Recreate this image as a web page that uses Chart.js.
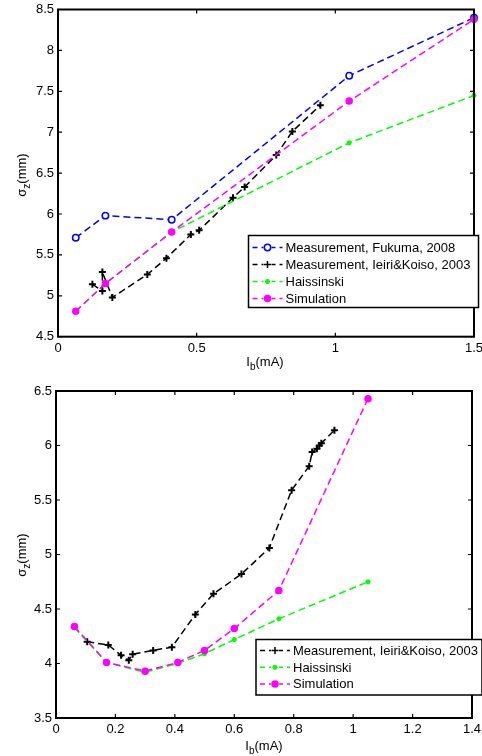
<!DOCTYPE html>
<html>
<head>
<meta charset="utf-8">
<script src="https://cdn.jsdelivr.net/npm/chart.js@4.4.1/dist/chart.umd.min.js"></script>
<style>
  body { margin: 0; background: #fff; font-family: "Liberation Sans", Arial, sans-serif; }
  #wrap { position: relative; width: 482px; height: 756px; }
  canvas { position: absolute; left: 0; }
  .lbl { position: absolute; font-size: 13px; line-height: 15px; color: #000; white-space: nowrap; transform: translate(-50%, -50%); }
  .lbl.rot { transform: translate(-50%, -50%) rotate(-90deg); }
  .lbl sub { font-size: 10px; vertical-align: -4px; line-height: 0; }
</style>
</head>
<body>
<div id="wrap">
  <canvas id="top" width="482" height="378" style="top:0"></canvas>
  <canvas id="bottom" width="482" height="378" style="top:378px"></canvas>
  <div class="lbl" style="left:265px; top:361px">I<sub>b</sub>(mA)</div>
  <div class="lbl rot" style="left:21px; top:175px">&sigma;<sub>z</sub>(mm)</div>
  <div class="lbl" style="left:264px; top:745px">I<sub>b</sub>(mA)</div>
  <div class="lbl rot" style="left:21px; top:555px">&sigma;<sub>z</sub>(mm)</div>
</div>
<script>
// ---- top panel data ----
const topFukumaX = [0.064, 0.171, 0.41, 1.05, 1.5];
const topFukumaY = [5.71, 5.98, 5.93, 7.69, 8.40];
const topIeiriX = [0.124, 0.16, 0.16, 0.196, 0.322, 0.391, 0.479, 0.509, 0.631, 0.673, 0.787, 0.845, 0.946];
const topIeiriY = [5.14, 5.06, 5.29, 4.98, 5.26, 5.46, 5.75, 5.80, 6.20, 6.33, 6.72, 7.01, 7.33];
const topHaisX = [0.064, 0.171, 0.41, 1.05, 1.5];
const topHaisY = [4.81, 5.15, 5.78, 6.87, 7.45];
const topSimX = [0.064, 0.171, 0.41, 1.05, 1.5];
const topSimY = [4.81, 5.15, 5.78, 7.38, 8.38];
const topXTicks = [0, 0.5, 1, 1.5];
const topYTicks = [4.5, 5, 5.5, 6, 6.5, 7, 7.5, 8, 8.5];

// ---- bottom panel data ----
const botIeiriX = [0.105, 0.176, 0.219, 0.245, 0.258, 0.327, 0.39, 0.469, 0.53, 0.624, 0.718, 0.793, 0.852, 0.862, 0.878, 0.886, 0.893, 0.937];
const botIeiriY = [4.20, 4.17, 4.075, 4.03, 4.085, 4.12, 4.15, 4.45, 4.64, 4.82, 5.06, 5.59, 5.81, 5.94, 5.97, 6.00, 6.02, 6.14];
const botHaisX = [0.062, 0.17, 0.30, 0.41, 0.50, 0.60, 0.75, 1.05];
const botHaisY = [4.33, 4.01, 3.92, 4.00, 4.09, 4.22, 4.41, 4.75];
const botSimX = [0.062, 0.17, 0.30, 0.41, 0.50, 0.60, 0.75, 1.05];
const botSimY = [4.34, 4.01, 3.93, 4.01, 4.12, 4.32, 4.67, 6.43];
const botXTicks = [0, 0.2, 0.4, 0.6, 0.8, 1, 1.2, 1.4];
const botYTicks = [3.5, 4, 4.5, 5, 5.5, 6, 6.5];

const names = {
    fukuma: 'Measurement, Fukuma, 2008',
    ieiri: 'Measurement, Ieiri&Koiso, 2003',
    hais: 'Haissinski',
    sim: 'Simulation'
};

const FONT = { family: '"Liberation Sans", Arial, sans-serif', size: 13 };
const DASH = [7, 4];

function pts(xs, ys) {
    return xs.map((x, i) => ({ x: x, y: ys[i] }));
}

function series(label, xs, ys, color, style, order) {
    const base = {
        label: label,
        data: pts(xs, ys),
        showLine: true,
        borderColor: color,
        borderWidth: 1.5,
        borderDash: DASH,
        pointStyle: style,
        pointBorderColor: color,
        pointBackgroundColor: color,
        pointRadius: 3,
        pointBorderWidth: 1.5,
        clip: false,
        order: order
    };
    if (style === 'circle-open') {
        base.pointStyle = 'circle';
        base.pointBackgroundColor = '#fff';
        base.pointRadius = 3.2;
    }
    if (style === 'cross') {
        base.pointRadius = 3.5;
        base.pointBorderWidth = 2;
    }
    if (style === 'star') {
        base.pointRadius = 2.5;
        base.pointBorderWidth = 1.5;
    }
    return base;
}

// box round the plot, with inward ticks on all four sides
const framePlugin = {
    id: 'frame',
    afterDraw(chart) {
        const ctx = chart.ctx;
        const a = chart.chartArea;
        const xs = chart.scales.x, ys = chart.scales.y;
        ctx.save();
        ctx.strokeStyle = '#000';
        ctx.lineWidth = 1.2;
        ctx.beginPath();
        xs.ticks.forEach(t => {
            const px = xs.getPixelForValue(t.value);
            ctx.moveTo(px, a.bottom); ctx.lineTo(px, a.bottom - 4);
            ctx.moveTo(px, a.top); ctx.lineTo(px, a.top + 4);
        });
        ys.ticks.forEach(t => {
            const py = ys.getPixelForValue(t.value);
            ctx.moveTo(a.left, py); ctx.lineTo(a.left + 4, py);
            ctx.moveTo(a.right, py); ctx.lineTo(a.right - 4, py);
        });
        ctx.stroke();
        ctx.lineWidth = 2;
        ctx.strokeRect(a.left, a.top, a.right - a.left, a.bottom - a.top);
        ctx.restore();
    }
};

function drawMarker(ctx, ds, x, y) {
    Chart.helpers.drawPoint(ctx, {
        pointStyle: ds.pointStyle,
        radius: ds.pointRadius,
        rotation: 0,
        borderWidth: ds.pointBorderWidth
    }, x, y);
}

// MATLAB-like legend box inside the plot
const boxLegend = {
    id: 'boxLegend',
    afterDraw(chart, args, opts) {
        const ctx = chart.ctx;
        const b = opts.box;
        ctx.save();
        ctx.fillStyle = '#fff';
        ctx.fillRect(b.x, b.y, b.w, b.h);
        ctx.lineWidth = 1.5;
        ctx.strokeStyle = '#000';
        ctx.strokeRect(b.x, b.y, b.w, b.h);
        ctx.font = FONT.size + 'px ' + FONT.family;
        ctx.textBaseline = 'middle';
        chart.data.datasets.forEach((ds, i) => {
            const cy = b.y + opts.firstRow + i * opts.rowGap;
            const x0 = b.x + 4, x1 = b.x + 34;
            ctx.strokeStyle = ds.borderColor;
            ctx.lineWidth = 1.5;
            ctx.setLineDash([5, 4]);
            ctx.beginPath();
            ctx.moveTo(x0, cy); ctx.lineTo(x1, cy);
            ctx.stroke();
            ctx.setLineDash([]);
            ctx.fillStyle = '#fff';
            ctx.fillRect((x0 + x1) / 2 - 4, cy - 4, 8, 8);
            ctx.strokeStyle = ds.pointBorderColor;
            ctx.fillStyle = ds.pointBackgroundColor;
            drawMarker(ctx, ds, (x0 + x1) / 2, cy);
            ctx.fillStyle = '#000';
            ctx.fillText(ds.label, x1 + 3, cy + 1);
        });
        ctx.restore();
    }
};

function makeChart(id, datasets, xTicks, yTicks, area, legendBox) {
    const tickSetter = arr => s => { s.ticks = arr.map(v => ({ value: v })); };
    return new Chart(document.getElementById(id), {
        type: 'scatter',
        data: { datasets: datasets },
        plugins: [framePlugin, boxLegend],
        options: {
            responsive: false,
            animation: false,
            devicePixelRatio: 1,
            layout: { padding: { top: area.top, right: 482 - area.right, left: 0, bottom: 0 } },
            scales: {
                x: {
                    type: 'linear',
                    min: xTicks[0], max: xTicks[xTicks.length - 1],
                    afterBuildTicks: tickSetter(xTicks),
                    afterFit: s => { s.height = 378 - area.bottom; s.paddingLeft = 0; s.paddingRight = 0; },
                    grid: { display: false, drawTicks: false, tickLength: 0 },
                    border: { display: false },
                    ticks: { color: '#000', font: FONT, padding: 4, maxRotation: 0, autoSkip: false, callback: v => String(v) }
                },
                y: {
                    type: 'linear',
                    min: yTicks[0], max: yTicks[yTicks.length - 1],
                    afterBuildTicks: tickSetter(yTicks),
                    afterFit: s => { s.width = area.left; s.paddingTop = 0; s.paddingBottom = 0; },
                    grid: { display: false, drawTicks: false, tickLength: 0 },
                    border: { display: false },
                    ticks: { color: '#000', font: FONT, padding: 4, autoSkip: false, callback: v => String(v) }
                }
            },
            plugins: {
                legend: { display: false },
                tooltip: { enabled: false },
                boxLegend: legendBox
            }
        }
    });
}

makeChart('top', [
    series(names.fukuma, topFukumaX, topFukumaY, '#0000ff', 'circle-open', 3),
    series(names.ieiri, topIeiriX, topIeiriY, '#000000', 'cross', 2),
    series(names.hais, topHaisX, topHaisY, '#00ff00', 'star', 1),
    series(names.sim, topSimX, topSimY, '#ff00ff', 'circle', 0)
], topXTicks, topYTicks,
    { left: 58, right: 474, top: 9.5, bottom: 336.7 },
    { box: { x: 248.5, y: 235.5, w: 230, h: 72 }, firstRow: 12, rowGap: 17 });

makeChart('bottom', [
    series(names.ieiri, botIeiriX, botIeiriY, '#000000', 'cross', 2),
    series(names.hais, botHaisX, botHaisY, '#00ff00', 'star', 1),
    series(names.sim, botSimX, botSimY, '#ff00ff', 'circle', 0)
], botXTicks, botYTicks,
    { left: 56, right: 472, top: 13, bottom: 340 },
    { box: { x: 256, y: 639.5 - 378, w: 226, h: 55.5 }, firstRow: 11, rowGap: 16.7 });
</script>
</body>
</html>
